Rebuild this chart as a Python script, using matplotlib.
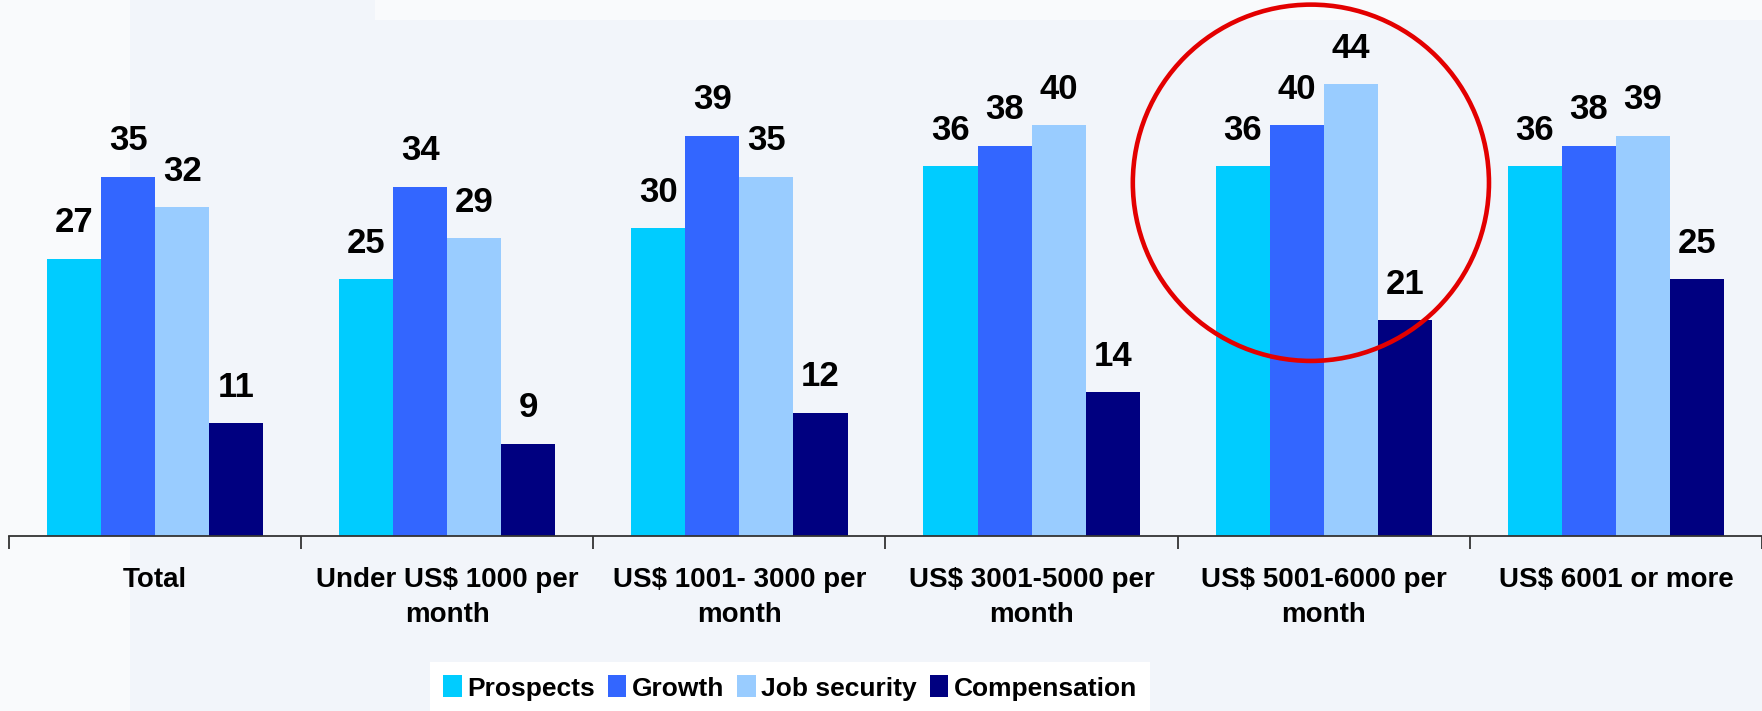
import matplotlib.pyplot as plt
import numpy as np
from matplotlib.patches import Ellipse, Rectangle

categories = ['Total', 'Under US$ 1000 per\nmonth', 'US$ 1001- 3000 per\nmonth',
              'US$ 3001-5000 per\nmonth', 'US$ 5001-6000 per\nmonth', 'US$ 6001 or more']
series = ['Prospects', 'Growth', 'Job security', 'Compensation']
prospects = [27, 25, 30, 36, 36, 36]
growth = [35, 34, 39, 38, 40, 38]
job_security = [32, 29, 35, 40, 44, 39]
compensation = [11, 9, 12, 14, 21, 25]
colors = ['#00CCFF', '#3366FF', '#99CCFF', '#000080']

plt.rcParams['font.family'] = ['Liberation Sans Narrow', 'Liberation Sans', 'DejaVu Sans']
plt.rcParams['font.weight'] = 'bold'

W, H = 1762, 711
fig = plt.figure(figsize=(W / 100, H / 100), dpi=100)
fig.patch.set_facecolor('#F2F5FA')

# soft lighter panels in the slide background, behind everything
bg = fig.add_axes([0, 0, 1, 1], zorder=-5)
bg.set_xlim(0, W)
bg.set_ylim(H, 0)
bg.axis('off')
bg.add_patch(Rectangle((0, 0), 130, H, facecolor='#F9FAFC', edgecolor='none'))
bg.add_patch(Rectangle((375, 0), W - 375, 20, facecolor='#F9FAFC', edgecolor='none'))

ax = fig.add_axes([9 / W, 1 - 536 / H, 1 - 9 / W, 536 / H])
ax.patch.set_alpha(0)

x = np.arange(len(categories))
width = 0.185
values = [prospects, growth, job_security, compensation]
for i, (name, vals, c) in enumerate(zip(series, values, colors)):
    pos = x + (i - 1.5) * width
    ax.bar(pos, vals, width, color=c, label=name, zorder=2)
    for px, v in zip(pos, vals):
        ax.annotate(f'{v}', (px, v), xytext=(0, 14), textcoords='offset points',
                    ha='center', va='bottom', fontsize=25, fontweight='bold')

ax.set_xlim(-0.5, len(categories) - 0.5)
ax.set_ylim(0, 52.2)
ax.set_yticks([])
for s in ['top', 'right', 'left']:
    ax.spines[s].set_visible(False)
ax.spines['bottom'].set_linewidth(1.3)
ax.spines['bottom'].set_color('#333333')

ax.set_xticks(np.arange(-0.5, len(categories), 1))
ax.set_xticklabels([])
ax.tick_params(axis='x', which='major', length=9, width=1.3, direction='out', color='#333333')
ax.set_xticks(x, minor=True)
ax.set_xticklabels(categories, minor=True, fontsize=20, fontweight='bold', linespacing=1.45)
ax.tick_params(axis='x', which='minor', length=0, pad=22)

# highlight ring around the US$ 5001-6000 group
ring = Ellipse((3.956, 34.4), 1.219, 34.7, fill=False, edgecolor='#E30000',
               linewidth=3.3, zorder=3, clip_on=False)
ax.add_patch(ring)

leg = fig.legend(loc='center', bbox_to_anchor=(790 / W, 1 - 688 / H), ncol=4,
                 fontsize=19, frameon=True, fancybox=False, edgecolor='none',
                 facecolor='white', framealpha=1, handlelength=0.7, handleheight=0.9,
                 handletextpad=0.2, columnspacing=0.5, borderpad=0.5)

fig.savefig('out.png', dpi=100, facecolor=fig.get_facecolor())
